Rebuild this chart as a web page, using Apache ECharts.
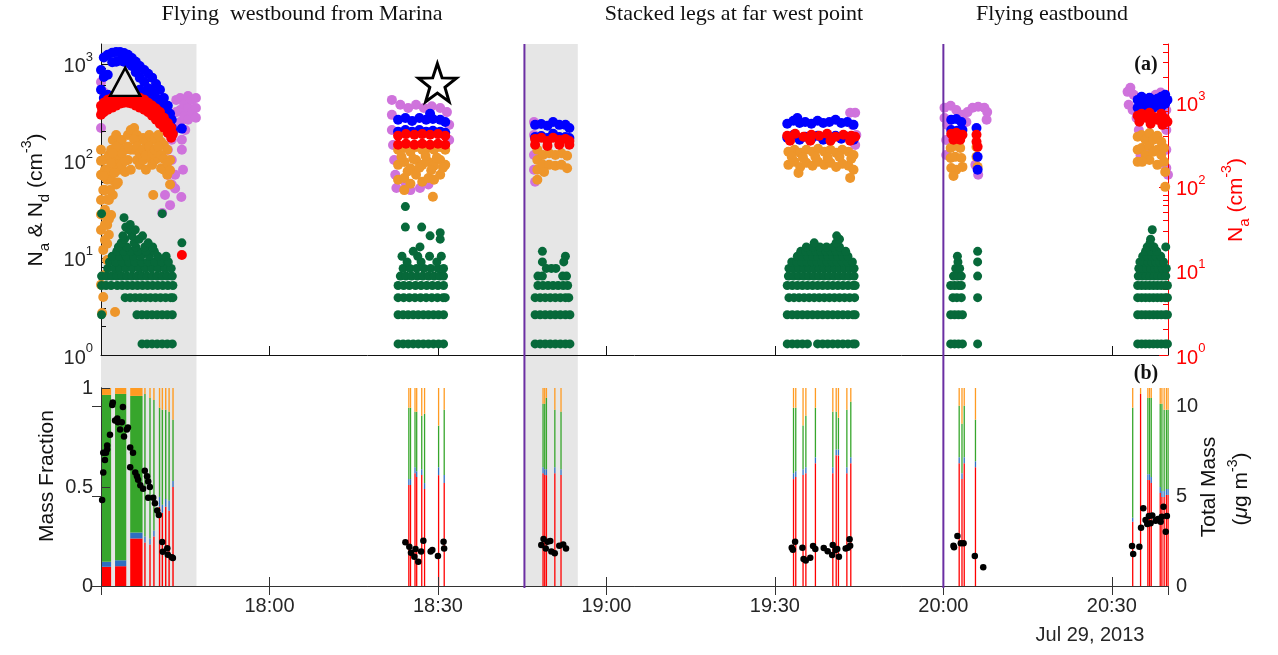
<!DOCTYPE html>
<html><head><meta charset="utf-8">
<script src="https://cdn.jsdelivr.net/npm/echarts@6/dist/echarts.min.js"></script>
<style>html,body{margin:0;padding:0;background:#fff;}#c{width:1278px;height:655px;}</style>
</head><body><div id="c"></div>
<script>
// time unit: minutes after 17:30, Jul 29, 2013
const phaseTitles = ['Flying  westbound from Marina', 'Stacked legs at far west point', 'Flying eastbound'];
const shadedPeriods = [[0, 17.0], [75.4, 84.9]];
const boundaryTimes = [75.4, 150.0];
const logTickValues = [1, 10, 100, 1000];
const logMinorLeft = [2,3,4,5,6,7,8,9,20,30,40,50,60,70,80,90,200,300,400,500,600,700,800,900];
const logMinorRight = [2,3,4,5,6,7,8,9,20,30,40,50,60,70,80,90,200,300,400,500,600,700,800,900,2000,3000,4000,5000];

// N_d (purple), left axis
const purpleNd = [[0,650],[0,218],[0.4,515],[8.7,425],[9.6,350],[10.5,278],[11.4,230],[12.3,200],[12.6,165],[11.9,130],[12.6,102],[11.9,72],[12.6,57],[11.4,44.5],[12.3,35],[10.9,29],
 [13.4,425],[13.4,318],[14.1,445],[14.1,335],[14.1,252],[14.8,385],[14.8,290],[15.5,465],[15.5,350],[15.5,265],[16.2,425],[16.2,318],[16.9,445],[16.9,350],[16.9,278],[13.7,218],[15.0,208],
 [14.4,165],[14.4,130],[14.6,81],[14.3,42.5],[13.2,72],[13.2,52],
 [51.8,425],[51.8,298],[51.8,208],[52.0,146],[52.2,102],[52.4,72],[52.6,52.5],[53.3,378],[54.7,350],[56.1,378],[57.5,350],[58.9,365],[60.4,350],[61.6,318],[62.0,235],[62.0,164],[55.1,50],[56.8,52.5],[58.3,57],[54.2,59],
 [77.1,252],[77.1,185],[77.1,115],[77.1,81],[77.3,61],
 [133.4,313],[134.3,313],[133.8,235],[134.5,185],[134.3,146],
 [150.2,352],[150.2,277],[151.3,369],[152.3,335],[150.7,235],[153.4,298],[154.3,318],[155.2,352],[156.2,361],[157.3,352],[157.8,318],[157.7,265],[154.1,252],[155.7,91],[156.2,72],[150.5,164],[150.5,115],
 [182.8,514],[183.3,566],[183.9,479],[183.0,378],[183.7,335],[184.4,277],[184.8,208],[185.1,115],[185.6,102],[186.9,130],[188.7,505],[189.2,447],[189.7,335],[189.7,208],[189.7,130],[189.7,84.5],[190,72],[187.8,479]];

// orange, left axis
const orangeNd = [[0,130],[0,72],[0,39.6],[0,19.4],[0.4,102],[0.4,50],[0.4,27.7],[0.4,12.1],[0.7,81],[0.7,31.3],[0.7,15.3],[0.7,6.7],[1.1,64],[1.1,21.8],[1.1,9.5],
 [1.4,115],[1.4,39.6],[1.4,17.3],[1.8,130],[1.8,64],[1.8,27.7],[2.1,164],[2.1,91],[2.1,44.5],[2.7,185],[2.7,102],[2.7,57],[3.2,146],[3.2,81],[3.7,164],[3.7,91],
 [4.3,130],[4.3,77],[4.8,185],[4.8,102],[5.3,208],[5.3,130],[5.3,81],[5.9,218],[5.9,130],[6.4,185],[6.4,102],[6.9,164],[6.9,91],[7.5,172],[7.5,102],[8.0,157],[8.0,81],
 [8.6,185],[8.6,107],[9.1,164],[9.1,91],[9.6,172],[9.6,102],[10.2,185],[10.2,107],[10.7,157],[10.7,84],[11.2,146],[11.2,81],[11.8,130],[11.8,72],[12.3,102],[12.3,57],[9.3,44.5],
 [3.2,115],[4.3,100],[4.8,140],[5.9,165],[6.4,140],[6.9,120],[7.5,130],[8.0,115],[8.6,140],[9.1,120],[9.6,130],[10.2,140],[10.7,115],[11.2,105],[11.8,95],[12.3,80],
 [3.7,120],[2.7,140],[2.1,120],[1.4,80],[0.7,50],[1.1,40],[0.4,70],[0,100],[0,28],[1.8,95],[1.4,25],[0.7,22],[1.1,14],[2.4,75],[3.0,60],[1.6,50],
 [0.4,3.96],[0.2,2.71],[2.5,2.77],[0,5.3],
 [52.9,130],[52.9,91],[52.9,64],[54.0,136],[54.0,97.6],[54.0,66.7],[54.0,50],[55.1,124],[55.1,84],[55.1,58],[56.1,139],[56.1,102],[56.1,72],[57.2,130],[57.2,91],[57.2,61],
 [58.3,136],[58.3,97.6],[58.3,66.7],[59.3,130],[59.3,89],[59.3,64],[60.4,139],[60.4,102],[60.4,72],[61.3,130],[61.3,91],[59.1,42.7],
 [53.5,110],[54.6,78],[55.6,105],[56.7,85],[57.8,112],[58.8,80],[59.8,108],[60.9,85],
 [77.7,130],[77.7,102],[77.7,81],[77.7,64],[78.7,115],[78.7,91],[79.8,120],[79.8,91],[80.9,115],[80.9,89],[82.0,120],[82.0,91],[83.0,113],[83.0,84],[78.9,77],
 [122.4,124],[122.4,91],[123.5,130],[123.5,97.7],[124.5,121],[124.5,86.7],[125.6,130],[125.6,95.4],[126.7,124],[126.7,89],[127.7,133],[127.7,97.7],[128.8,124],[128.8,91],
 [129.9,130],[129.9,95.4],[130.9,121],[130.9,86.7],[132.0,130],[132.0,93.2],[133.1,124],[133.1,89],[134.0,115],[134.0,81],[124.2,75.2],[133.4,66.8],
 [123.0,110],[125.0,108],[127.2,110],[129.4,108],[131.5,110],[133.6,105],
 [151.3,136],[152.1,143],[153.0,136],[151.3,107],[152.1,110],[153.2,107],[151.4,84.5],[152.3,81],[153.4,86.7],[151.8,70],[155.9,139],[155.9,110],[156.1,86.7],
 [184.6,177],[184.6,130],[184.6,97.7],[185.3,185],[185.3,136],[186.0,165],[186.0,115],[186.7,194],[186.7,142],[186.7,102],[187.4,165],[187.4,124],[188.1,181],[188.1,130],[188.1,91],
 [188.8,157],[188.8,115],[189.3,136],[189.3,97.7],[189.5,77],[189.5,54],[185.4,97.7]];

// blue, left axis
const blueNd = [[0,865],[0,540],[0.5,1160],[0.5,730],[0.5,445],[1.2,1240],[1.2,770],[1.2,480],[2.0,1300],[2.0,1040],[2.7,1320],[2.7,1050],[3.4,1320],[3.4,1080],[4.1,1290],[4.1,1050],
 [4.8,1240],[4.8,1020],[5.5,1150],[5.5,950],[6.2,1050],[6.2,820],[6.9,950],[6.9,720],[6.9,540],[7.7,865],[7.7,650],[7.7,490],[8.4,790],[8.4,560],[8.4,425],[9.1,720],[9.1,515],[9.1,385],
 [9.8,620],[9.8,445],[9.8,335],[10.5,540],[10.5,385],[10.5,290],[11.2,445],[11.2,335],[11.2,265],[11.9,370],[11.9,275],[12.3,305],[12.3,240],[12.6,265],[12.6,220],[12.8,200],[14.4,215],
 [52.9,265],[52.9,200],[54.2,276],[54.2,208],[55.4,258],[55.4,200],[56.7,276],[56.7,208],[57.9,265],[57.9,200],[59.1,270],[59.1,204],[60.4,265],[60.4,200],[61.3,252],[61.3,195],[58.6,305],
 [77.3,235],[77.3,176],[78.4,240],[78.4,180],[79.5,230],[79.5,172],[80.5,252],[80.5,190],[81.6,235],[81.6,176],[82.7,235],[82.7,176],[83.4,218],[83.4,172],
 [122.2,241],[122.2,173],[123.3,259],[123.3,185],[124.4,246],[124.4,165],[125.4,252],[125.4,177],[126.5,241],[126.5,169],[127.6,259],[127.6,181],[128.6,246],[128.6,165],
 [129.7,252],[129.7,173],[130.8,265],[130.8,181],[131.8,246],[131.8,169],[132.9,252],[132.9,177],[134.0,235],[134.0,165],[124.0,277],
 [151.4,265],[152.3,270],[153.2,252],[151.4,208],[152.5,204],[153.4,208],[155.9,218],[156.1,110],[156.1,81],
 [184.6,425],[184.6,352],[185.3,457],[185.3,369],[186.0,416],[186.0,344],[186.7,447],[186.7,361],[187.4,425],[187.4,352],[188.1,436],[188.1,369],[188.8,457],[188.8,361],[189.5,479],[189.5,387],[189.9,425]];

// N_a (red), right axis
const redNa = [[0,921],[0,720],[0.5,1000],[0.5,774],[1.2,1087],[1.2,825],[2.0,1146],[2.0,876],[2.7,1247],[2.7,925],[3.4,1318],[3.4,977],[4.1,1355],[4.1,1000],[4.8,1355],[4.8,1000],
 [5.5,1280],[5.5,977],[6.2,1212],[6.2,925],[6.9,1146],[6.9,876],[7.7,1087],[7.7,825],[8.4,1000],[8.4,774],[9.1,925],[9.1,700],[9.8,852],[9.8,627],[10.5,774],[10.5,560],
 [11.2,663],[11.2,505],[11.9,576],[11.9,436],[12.5,505],[12.5,384],[12.8,424],[14.4,15.5],
 [0.2,820],[1.6,960],[3.0,1120],[4.4,1160],[5.8,1100],[7.3,960],[8.8,850],[10.1,700],[11.5,560],
 [52.9,405],[52.9,316],[54.3,424],[54.3,325],[55.8,416],[55.8,316],[57.2,424],[57.2,325],[58.6,416],[58.6,316],[60.0,424],[60.0,325],[61.3,405],[61.3,316],
 [77.3,372],[78.4,383],[79.5,351],[80.5,383],[81.6,361],[82.7,372],[83.4,351],[77.3,316],[79.5,307],[81.6,316],[83.4,316],
 [122.2,405],[123.6,428],[125.1,394],[126.5,416],[127.9,405],[129.3,428],[130.8,394],[132.2,416],[133.6,405],[134.3,394],[122.7,353],[126.3,353],[129.9,353],[133.4,353],
 [151.4,428],[152.3,439],[153.4,416],[151.8,363],[153.0,363],[155.9,416],[155.9,343],[156.1,299],
 [184.6,700],[185.3,740],[186.0,663],[186.7,760],[187.4,681],[188.1,627],[188.8,740],[189.5,645],[189.9,594],[184.9,594],[186.9,562],[189.0,546]];

// dark green (quantised levels), left axis: [level, times]
const greenLevels = [
 [1.3, [7.3,8.2,9.1,10.0,10.9,11.8,12.7, 52.9,53.8,54.7,55.6,56.5,57.4,58.3,59.2,60.1,61.0, 77.3,78.2,79.1,80.0,80.9,81.8,82.7,83.5, 122.2,123.1,124.0,124.9,125.8,127.6,128.5,129.4,130.3,131.2,132.1,133.0,133.9,134.3, 151.3,152.0,152.7,153.4,156.1, 184.6,185.3,186.0,186.7,187.4,188.1,188.8,189.5,189.9]],
 [2.6, [0.1,6.4,7.3,8.2,9.1,10.0,10.9,11.8,12.7, 52.9,53.8,54.7,55.6,56.5,57.4,58.3,59.2,60.1,61.0, 77.3,78.2,79.1,80.0,80.9,81.8,82.7,83.5, 122.2,123.1,124.0,124.9,125.8,126.7,127.6,128.5,129.4,130.3,131.2,132.1,133.0,133.9,134.3, 151.3,152.0,152.7,153.4, 184.6,185.3,186.0,186.7,187.4,188.1,188.8,189.5,189.9]],
 [3.9, [4.3,5.2,6.1,7.0,7.9,8.8,9.7,10.6,11.5,12.4,12.8, 52.9,53.9,54.9,55.9,56.9,57.9,58.9,59.9,60.9,61.3, 77.3,78.2,79.1,80.0,80.9,81.8,82.7,83.3, 122.5,123.4,124.3,125.2,126.1,127.0,127.9,128.8,129.7,130.6,131.5,132.4,133.3,134.2, 151.7,152.4,153.2,156.1, 184.6,185.3,186.0,186.7,187.4,188.1,188.8,189.5,189.9]],
 [5.2, [0.1,0.9,1.8,2.9,3.8,4.7,5.6,6.5,7.4,8.3,9.2,10.1,11.0,11.9,12.8, 52.9,53.9,54.9,56.0,57.0,58.0,59.0,60.0,61.0, 77.8,78.7,79.6,80.5,81.4,82.3,83.1, 122.2,123.1,124.0,124.9,125.8,126.7,127.6,128.5,129.4,130.3,131.2,132.1,133.0,133.9,134.3, 151.3,152.0,152.7,153.2, 184.6,185.3,186.0,186.7,187.4,188.1,188.8,189.5,189.9]],
 [6.5, [0.1,1.0,1.9,2.8,3.7,4.6,5.5,6.4,7.3,8.2,9.1,10.0,10.9,11.8,12.7, 53.3,54.3,55.3,56.3,57.3,58.3,59.3,60.3,61.0, 77.8,78.6,82.2,82.9, 122.4,123.3,124.2,125.1,126.0,126.9,127.8,128.7,129.6,130.5,131.4,132.3,133.2,134.1, 151.8,152.5,153.2,156.1, 184.7,185.4,186.1,186.8,187.5,188.2,188.9,189.6]],
 [7.8, [1.2,2.4,3.3,4.4,5.6,6.8,7.9,9.0,10.2,11.4,12.5, 53.8,55.0,56.2,57.5,58.7,60.0,61.0, 79.3,80.2,81.0, 122.5,123.4,124.3,125.2,126.1,127.0,127.9,128.8,129.7,130.6,131.5,132.4,133.3,134.1, 152.2,152.9, 184.8,185.5,186.2,186.9,187.6,188.3,189.0,189.7]],
 [9.1, [1.5,2.6,3.8,4.9,6.0,7.2,8.4,9.6,10.8,12.0, 54.5,57.0,59.8, 78.6,82.4, 123.0,123.9,124.8,125.7,126.6,127.5,128.4,129.3,130.2,131.1,132.0,132.9,133.8, 152.6,156.1, 185.0,185.7,186.4,187.1,187.8,188.5,189.2]],
 [10.4, [2.0,3.3,4.5,5.8,7.1,8.6,10.1,11.6, 53.6,56.4,58.5,60.6, 82.7, 124.0,124.9,125.8,126.7,127.6,128.5,129.4,130.3,131.2,132.1,133.0, 152.5, 185.5,186.3,187.1,187.9,188.7]],
 [11.7, [2.8,4.0,5.3,6.6,8.0,9.5, 55.6, 78.6, 124.6,125.5,126.4,127.3,128.2,129.1,130.0,130.9,131.8,132.6, 156.1, 186.0,187.0,188.0]],
 [13.0, [3.1,4.6,6.2,7.8,9.2, 56.8, 125.6,126.8,128.0,129.2,130.4,131.5, 186.3,187.5,189.6]],
 [14.3, [3.6,5.9,8.4,14.4, 127.0,130.9, 186.8]],
 [15.6, [4.2,6.8, 60.4, 131.5, 186.9]],
 [16.9, [3.9,5.5,7.4, 58.6, 131.0]],
 [18.2, [60.4]],
 [19.5, [4.9,6.1, 187.2]],
 [20.8, [4.4, 54.2,57.1]],
 [22.1, [5.2]],
 [26.0, [4.1]],
 [28.6, [0.1,10.9]],
 [33.8, [54.2]]
];

const triangleMark = [[4.3, 652]];
const starMark = [[59.9, 640]];

// panel (b): mass fraction strips
const barStart = [0,2.5,5.2,7.7,8.6,9.3,10.3,10.8,11.4,12.0,12.7, 54.7,55.0,55.8,56.1,57.0,57.5,60.0,61.0, 78.6,78.9,79.2,80.7,81.8, 123.2,123.6,124.9,125.4,127.1,130.2,130.8,131.2,132.7,133.4, 152.7,153.2,153.6,155.6, 183.6,185.0,186.3,186.6,186.9,188.5,188.8,189.2,189.6,189.9];
const barEnd   = [1.8,4.5,7.4,7.95,8.85,9.55,10.55,11.05,11.65,12.25,12.95, 54.93,55.23,56.03,56.33,57.23,57.73,60.23,61.23, 78.83,79.13,79.43,80.93,82.03, 123.43,123.83,125.13,125.63,127.33,130.43,131.03,131.43,132.93,133.63, 152.93,153.43,153.83,155.83, 183.83,185.23,186.53,186.83,187.13,188.73,189.03,189.43,189.83,190.13];
const fracRed    = [0.097,0.10,0.24,0.22,0.21,0.25,0.40,0.37,0.40,0.38,0.50, 0.51,0.51,0.57,0.55,0.56,0.49,0.56,0.52, 0.57,0.56,0.56,0.57,0.56, 0.54,0.55,0.56,0.57,0.62,0.57,0.66,0.66,0.57,0.62, 0.62,0.54,0.62,0.60, 0.325,0.97,0.535,0.535,0.52,0.47,0.45,0.45,0.46,0.46];
const fracBlue   = [0.025,0.03,0.03,0.03,0.03,0.03,0.05,0.04,0.04,0.05,0.03, 0.03,0.03,0.03,0.03,0.03,0.03,0.04,0.04, 0.03,0.03,0.03,0.03,0.03, 0.03,0.03,0.03,0.03,0.03,0.03,0.03,0.03,0.03,0.03, 0.03,0.03,0.03,0.03, 0.02,0,0.03,0.03,0.03,0.03,0.03,0.03,0.03,0.03];
const fracGreen  = [0.843,0.84,0.69,0.72,0.71,0.66,0.45,0.48,0.45,0.45,0.31, 0.36,0.36,0.28,0.30,0.27,0.35,0.21,0.33, 0.32,0.33,0.36,0.29,0.29, 0.33,0.32,0.22,0.26,0.25,0.28,0.19,0.16,0.29,0.28, 0.26,0.25,0.26,0.21, 0.555,0,0.385,0.385,0.40,0.42,0.44,0.41,0.40,0.40];
const fracOrange = [0.035,0.03,0.04,0.03,0.05,0.06,0.10,0.11,0.11,0.12,0.16, 0.10,0.10,0.12,0.12,0.14,0.13,0.19,0.11, 0.08,0.08,0.05,0.11,0.12, 0.10,0.10,0.19,0.14,0.10,0.12,0.12,0.15,0.11,0.07, 0.09,0.18,0.09,0.16, 0.10,0.03,0.05,0.05,0.05,0.08,0.08,0.11,0.11,0.11];

// total mass (ug m-3), right axis of panel (b)
const massTotal = [[0.2,4.78],[0.4,6.3],[0.4,7.4],[0.9,7.4],[0.7,7.0],[1.1,7.6],[1.1,7.8],[1.6,8.4],[2.0,10.05],[2.1,10.2],[2.5,9.2],[2.9,9.3],[3.0,9.1],[3.4,8.7],[3.7,9.1],[3.9,9.95],[4.1,8.3],
 [4.6,8.7],[4.8,8.8],[5.2,7.7],[5.2,6.6],[5.7,7.4],[6.1,6.3],[6.4,6.1],[6.6,5.9],[7.0,5.6],[7.5,5.4],[7.8,6.4],[8.2,6.1],[8.4,5.8],[8.7,5.5],[8.4,4.9],[9.3,4.9],[9.6,4.6],[10.0,4.2],
 [10.3,3.95],[10.9,2.45],[11.0,1.9],[11.8,2.1],[11.9,1.73],[12.6,1.6],[12.8,1.56],
 [54.2,2.43],[54.9,2.18],[55.2,1.85],[55.8,1.63],[56.0,2.06],[56.5,1.35],[57.0,1.91],[57.4,2.52],[58.7,1.91],[59.0,2.0],[60.0,1.67],[61.0,2.46],[61.1,2.09],
 [78.4,2.28],[78.8,2.61],[79.2,2.09],[79.5,2.46],[80.0,2.5],[80.2,1.91],[80.8,1.82],[81.6,2.24],[82.3,2.31],[82.8,2.09],
 [123.0,2.13],[123.2,2.02],[123.6,2.46],[124.9,2.13],[125.1,1.5],[125.5,1.41],[126.3,1.57],[126.8,2.22],[127.2,2.06],[128.7,2.11],[129.4,1.93],[130.2,1.72],[130.3,2.28],[130.8,2.0],
 [131.1,2.06],[131.4,1.63],[132.6,2.09],[133.0,2.13],[133.3,2.6],[133.4,2.24],
 [151.8,2.24],[151.9,2.15],[152.5,2.78],[153.1,2.38],[153.6,2.38],[155.6,1.67],[157.1,1.04],
 [183.6,2.22],[183.8,1.78],[184.9,2.18],[185.2,3.24],[185.6,4.32],[186.0,3.67],[186.3,3.45],[186.6,3.89],[186.9,3.48],[187.2,3.91],[187.8,3.63],[188.2,3.72],[188.4,3.7],[188.7,3.57],
 [188.9,3.85],[189.2,4.4],[189.6,3.02],[189.8,3.89]];

// ---------- build ----------
const greenNd = [];
greenLevels.forEach(([v, ts]) => ts.forEach(t => greenNd.push([t, v])));
const barData = barStart.map((s, i) => [s, barEnd[i], fracRed[i], fracBlue[i], fracGreen[i], fracOrange[i]]);

const SANS = 'Liberation Sans';
const INK = '#262626';
const GRAY = '#e6e6e6';
const L = 101, R = 110;

function timeLabel(v) {
  if (v === 0) return '';
  const m = 1050 + v;
  return Math.floor(m / 60) + ':' + String(m % 60).padStart(2, '0');
}
function powLabel(v) { return '{b|10}{s|' + Math.round(Math.log10(v)) + '}'; }
const powRich = (c) => ({ b: {fontSize: 20, fontFamily: SANS, color: c, lineHeight: 26, verticalAlign: 'bottom'},
                          s: {fontSize: 13, fontFamily: SANS, color: c, lineHeight: 14, verticalAlign: 'top'} });

const xBase = {type: 'value', min: 0, max: 190, interval: 30, splitLine: {show: false}, z: 3};
const dot = (c) => ({color: c, opacity: 1});

const option = {
  animation: false,
  backgroundColor: '#ffffff',
  grid: [
    {left: L, right: R, top: 44, height: 311},
    {left: L, right: R, top: 388, height: 198},
    {left: L, right: R, top: 44, height: 542}
  ],
  xAxis: [
    Object.assign({}, xBase, {gridIndex: 0, position: 'bottom', axisLine: {lineStyle: {color: '#111'}},
      axisTick: {inside: true, length: 9, lineStyle: {color: '#111'}}, axisLabel: {show: false}}),
    Object.assign({}, xBase, {gridIndex: 1, position: 'bottom', axisLine: {lineStyle: {color: '#333'}},
      axisTick: {inside: true, length: 9, lineStyle: {color: '#333'}},
      axisLabel: {formatter: timeLabel, fontSize: 20, fontFamily: SANS, color: INK, margin: 10, showMinLabel: false, showMaxLabel: false}}),
    Object.assign({}, xBase, {gridIndex: 1, position: 'top', axisLine: {lineStyle: {color: '#333'}},
      axisTick: {inside: true, length: 9, lineStyle: {color: '#333'}}, axisLabel: {show: false}}),
    Object.assign({}, xBase, {gridIndex: 2, show: false})
  ],
  yAxis: [
    {type: 'log', gridIndex: 0, min: 1, max: 1600, position: 'left', z: 3, splitLine: {show: false},
      axisLine: {show: true, lineStyle: {color: '#111'}},
      axisTick: {inside: true, length: 9, customValues: logTickValues, lineStyle: {color: '#111'}},
      axisLabel: {customValues: logTickValues, formatter: powLabel, rich: powRich(INK), margin: 8}},
    {type: 'log', gridIndex: 0, min: 1, max: 5000, position: 'right', z: 3, splitLine: {show: false},
      axisLine: {show: true, lineStyle: {color: '#ff0000'}},
      axisTick: {inside: true, length: 9, customValues: logTickValues, lineStyle: {color: '#ff0000'}},
      axisLabel: {customValues: logTickValues, formatter: powLabel, rich: powRich('#ff0000'), margin: 8}},
    {type: 'log', gridIndex: 0, min: 1, max: 1600, position: 'left', z: 3, splitLine: {show: false},
      axisLine: {show: false}, axisLabel: {show: false},
      axisTick: {inside: true, length: 5, customValues: logMinorLeft, lineStyle: {color: '#111'}}},
    {type: 'log', gridIndex: 0, min: 1, max: 5000, position: 'right', z: 3, splitLine: {show: false},
      axisLine: {show: false}, axisLabel: {show: false},
      axisTick: {inside: true, length: 5, customValues: logMinorRight, lineStyle: {color: '#ff0000'}}},
    {type: 'value', gridIndex: 1, min: 0, max: 1, interval: 0.5, position: 'left', z: 3, splitLine: {show: false},
      axisLine: {show: true, lineStyle: {color: '#333'}},
      axisTick: {inside: true, length: 9, lineStyle: {color: '#333'}},
      axisLabel: {fontSize: 20, fontFamily: SANS, color: INK, margin: 8, formatter: v => String(v)}},
    {type: 'value', gridIndex: 1, min: 0, max: 11, interval: 5, position: 'right', z: 3, splitLine: {show: false},
      axisLine: {show: true, lineStyle: {color: '#333'}},
      axisTick: {inside: true, length: 9, lineStyle: {color: '#333'}},
      axisLabel: {fontSize: 20, fontFamily: SANS, color: INK, margin: 8, showMaxLabel: false}},
    {type: 'value', gridIndex: 2, min: 0, max: 1, show: false}
  ],
  series: [
    {type: 'custom', name: 'shade', xAxisIndex: 3, yAxisIndex: 6, z: -5, silent: true, data: shadedPeriods,
      encode: {x: [0, 1]},
      renderItem: (p, api) => {
        const a = api.coord([api.value(0), 1]), b = api.coord([api.value(1), 0]);
        return {type: 'rect', shape: {x: a[0], y: a[1], width: b[0] - a[0], height: b[1] - a[1]}, style: {fill: GRAY}};
      }},
    {type: 'custom', name: 'fraction', xAxisIndex: 1, yAxisIndex: 4, z: 2, silent: true, data: barData,
      encode: {x: [0, 1], y: [2]},
      renderItem: (p, api) => {
        const t0 = api.value(0), t1 = api.value(1);
        const cols = ['#ff0000', '#2f6fc0', '#37a62c', '#ff9b22'];
        let acc = 0; const children = [];
        for (let k = 0; k < 4; k++) {
          const f = api.value(2 + k);
          if (f <= 0) continue;
          const p0 = api.coord([t0, acc]), p1 = api.coord([t1, acc + f]);
          children.push({type: 'rect', shape: {x: p0[0], y: p1[1], width: Math.max(p1[0] - p0[0], 1.3), height: p0[1] - p1[1]}, style: {fill: cols[k]}});
          acc += f;
        }
        return {type: 'group', children};
      }},
    {type: 'scatter', name: 'purple', xAxisIndex: 0, yAxisIndex: 0, z: 2, data: purpleNd, symbolSize: 10, itemStyle: dot('#cf73dc'), silent: true},
    {type: 'scatter', name: 'orange', xAxisIndex: 0, yAxisIndex: 0, z: 3, data: orangeNd, symbolSize: 10, itemStyle: dot('#ee962b'), silent: true},
    {type: 'scatter', name: 'green', xAxisIndex: 0, yAxisIndex: 0, z: 3, data: greenNd, symbolSize: 9, itemStyle: dot('#07693a'), silent: true},
    {type: 'scatter', name: 'blue', xAxisIndex: 0, yAxisIndex: 0, z: 4, data: blueNd, symbolSize: 10, itemStyle: dot('#0000ff'), silent: true},
    {type: 'scatter', name: 'red', xAxisIndex: 0, yAxisIndex: 1, z: 5, data: redNa, symbolSize: 10, itemStyle: dot('#ff0000'), silent: true},
    {type: 'scatter', name: 'triangle', xAxisIndex: 0, yAxisIndex: 0, z: 8, data: triangleMark, symbol: 'triangle', symbolSize: [30, 28],
      itemStyle: {color: GRAY, opacity: 1, borderColor: '#000', borderWidth: 2.5}, silent: true},
    {type: 'scatter', name: 'star', xAxisIndex: 0, yAxisIndex: 0, z: 8, data: starMark,
      symbol: 'path://M50,2 L61.8,36.2 L97.6,36.9 L69,58.8 L79.4,93.1 L50,72.6 L20.6,93.1 L31,58.8 L2.4,36.9 L38.2,36.2 Z', symbolSize: 38,
      itemStyle: {color: '#ffffff', opacity: 1, borderColor: '#000', borderWidth: 3}, silent: true},
    {type: 'scatter', name: 'mass', xAxisIndex: 1, yAxisIndex: 5, z: 6, data: massTotal, symbolSize: 6.5, itemStyle: dot('#000'), silent: true},
    {type: 'custom', name: 'boundary', xAxisIndex: 3, yAxisIndex: 6, z: 9, silent: true, data: boundaryTimes.map(t => [t]),
      encode: {x: 0},
      renderItem: (p, api) => {
        const a = api.coord([api.value(0), 1]), b = api.coord([api.value(0), 0]);
        return {type: 'line', shape: {x1: a[0], y1: a[1], x2: b[0], y2: b[1] + 2}, style: {stroke: '#6b2fa3', lineWidth: 2}};
      }}
  ],
  graphic: [
    {type: 'text', x: 302, y: 14, style: {text: phaseTitles[0], font: '22px "Liberation Serif"', fill: '#111', align: 'center', verticalAlign: 'middle'}},
    {type: 'text', x: 734, y: 14, style: {text: phaseTitles[1], font: '22px "Liberation Serif"', fill: '#111', align: 'center', verticalAlign: 'middle'}},
    {type: 'text', x: 1052, y: 14, style: {text: phaseTitles[2], font: '22px "Liberation Serif"', fill: '#111', align: 'center', verticalAlign: 'middle'}},
    {type: 'text', x: 1146, y: 65, style: {text: '(a)', font: 'bold 20px "Liberation Serif"', fill: '#111', align: 'center', verticalAlign: 'middle'}},
    {type: 'text', x: 1146, y: 374, style: {text: '(b)', font: 'bold 20px "Liberation Serif"', fill: '#111', align: 'center', verticalAlign: 'middle'}},
    {type: 'text', x: 36, y: 200, rotation: Math.PI / 2,
      style: {text: '{n|N}{d|a}{n| & N}{d|d}{n| (cm}{u|-3}{n|)}', align: 'center', verticalAlign: 'middle', fill: '#111',
        rich: {n: {fontSize: 21, fontFamily: SANS, lineHeight: 32, verticalAlign: 'middle'},
               d: {fontSize: 15, fontFamily: SANS, lineHeight: 15, verticalAlign: 'bottom'},
               u: {fontSize: 14, fontFamily: SANS, lineHeight: 14, verticalAlign: 'top'}}}},
    {type: 'text', x: 1236, y: 200, rotation: Math.PI / 2,
      style: {text: '{n|N}{d|a}{n| (cm}{u|-3}{n|)}', align: 'center', verticalAlign: 'middle', fill: '#ff0000',
        rich: {n: {fontSize: 21, fontFamily: SANS, lineHeight: 32, verticalAlign: 'middle', color: '#ff0000'},
               d: {fontSize: 15, fontFamily: SANS, lineHeight: 15, verticalAlign: 'bottom', color: '#ff0000'},
               u: {fontSize: 14, fontFamily: SANS, lineHeight: 14, verticalAlign: 'top', color: '#ff0000'}}}},
    {type: 'text', x: 47, y: 476, rotation: Math.PI / 2,
      style: {text: 'Mass Fraction', font: '21px "Liberation Sans"', fill: '#111', align: 'center', verticalAlign: 'middle'}},
    {type: 'text', x: 1209, y: 487, rotation: Math.PI / 2,
      style: {text: 'Total Mass', font: '21px "Liberation Sans"', fill: '#111', align: 'center', verticalAlign: 'middle'}},
    {type: 'text', x: 1241, y: 489, rotation: Math.PI / 2,
      style: {text: '{n|(}{m|μ}{n|g m}{u|-3}{n|)}', align: 'center', verticalAlign: 'middle', fill: '#111',
        rich: {n: {fontSize: 21, fontFamily: SANS, lineHeight: 30, verticalAlign: 'middle'},
               m: {fontSize: 21, fontFamily: SANS, fontStyle: 'italic', lineHeight: 30, verticalAlign: 'middle'},
               u: {fontSize: 14, fontFamily: SANS, lineHeight: 14, verticalAlign: 'top'}}}},
    {type: 'text', x: 1090, y: 635, style: {text: 'Jul 29, 2013', font: '20px "Liberation Sans"', fill: INK, align: 'center', verticalAlign: 'middle'}}
  ]
};
const chart = echarts.init(document.getElementById('c'), null, {renderer: 'canvas', width: 1278, height: 655});
chart.setOption(option);
</script>
</body></html>
